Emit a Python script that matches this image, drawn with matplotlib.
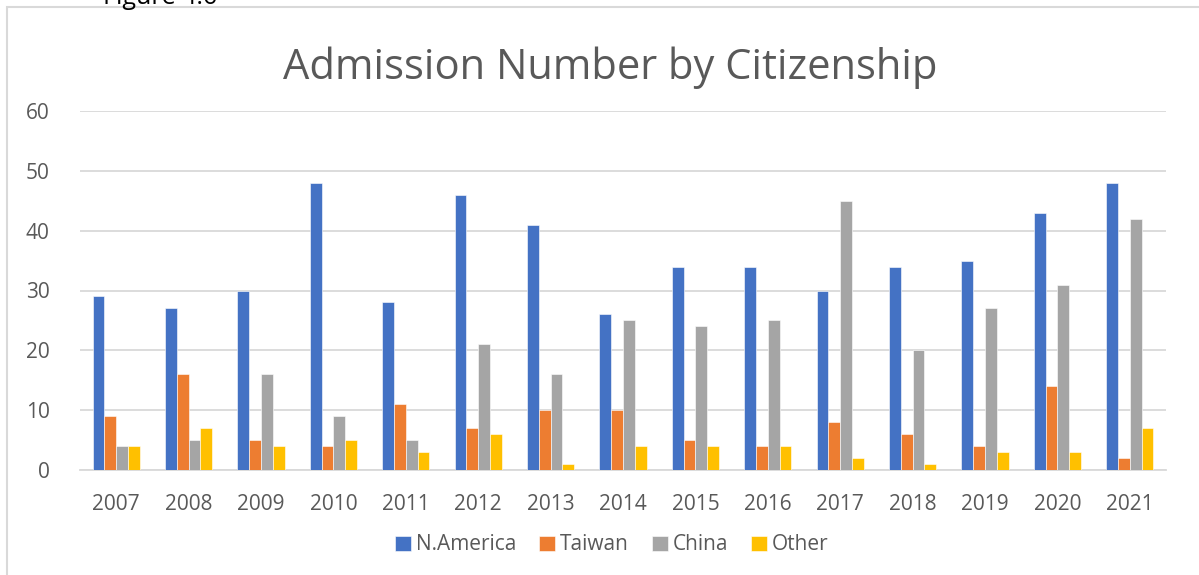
import numpy as np
import matplotlib.pyplot as plt
from matplotlib.patches import Rectangle

# ---------------------------------- DATA ---------------------------------- #
years = ["2007", "2008", "2009", "2010", "2011", "2012", "2013", "2014",
         "2015", "2016", "2017", "2018", "2019", "2020", "2021"]
series_names = ["N.America", "Taiwan", "China", "Other"]
n_america = [29, 27, 30, 48, 28, 46, 41, 26, 34, 34, 30, 34, 35, 43, 48]
taiwan = [9, 16, 5, 4, 11, 7, 10, 10, 5, 4, 8, 6, 4, 14, 2]
china = [4, 5, 16, 9, 5, 21, 16, 25, 24, 25, 45, 20, 27, 31, 42]
other = [4, 7, 4, 5, 3, 6, 1, 4, 4, 4, 2, 1, 3, 3, 7]
y_ticks = [0, 10, 20, 30, 40, 50, 60]

colors = ["#4472C4", "#ED7D31", "#A5A5A5", "#FFC000"]
text_color = "#595959"
plt.rcParams["font.family"] = ["Open Sans", "DejaVu Sans"]

# --------------------------------- PLOT ----------------------------------- #
fig = plt.figure(figsize=(11.99, 5.75), dpi=100)
ax = fig.add_axes([80 / 1199, 1 - 470 / 575, 1086 / 1199, 359 / 575])

x = np.arange(len(years))
bar_w = 0.1625
values = [n_america, taiwan, china, other]
for i, (name, vals) in enumerate(zip(series_names, values)):
    ax.bar(x + (i - 1.5) * bar_w, vals, width=bar_w, color=colors[i],
           edgecolor="white", linewidth=0.4, label=name, zorder=3)

ax.set_xlim(-0.5, len(years) - 0.5)
ax.set_ylim(0, 60)
ax.set_yticks(y_ticks)
ax.set_xticks(x)
ax.set_xticklabels(years)
ax.tick_params(axis="both", length=0, labelsize=15, colors=text_color)
ax.tick_params(axis="x", pad=17)
ax.tick_params(axis="y", pad=22)
ax.grid(axis="y", color="#D9D9D9", linewidth=1.3, zorder=0)
for s in ["top", "right", "left"]:
    ax.spines[s].set_visible(False)
ax.spines["bottom"].set_color("#D9D9D9")
ax.spines["bottom"].set_linewidth(1.3)

fig.text(610 / 1199, 1 - 68 / 575, "Admission Number by Citizenship",
         ha="center", va="center", fontsize=30, color=text_color)

leg = fig.legend(loc="center", bbox_to_anchor=(612 / 1199, 1 - 545 / 575),
                 ncol=4, frameon=False, fontsize=15, handlelength=0.75,
                 handleheight=0.75, handletextpad=0.25, columnspacing=1.1)
for t in leg.get_texts():
    t.set_color(text_color)

# chart border and cut-off caption above it
fig.patches.append(Rectangle((7 / 1199, -0.01), 1.1, 1 - 7 / 575 + 0.01,
                             transform=fig.transFigure, fill=False,
                             edgecolor="#D9D9D9", linewidth=1.5))
fig.text(103 / 1199, 1 - 4 / 575, "Figure 4.6", ha="left", va="baseline",
         fontsize=18, color="black")

fig.savefig("out.png", dpi=100)
